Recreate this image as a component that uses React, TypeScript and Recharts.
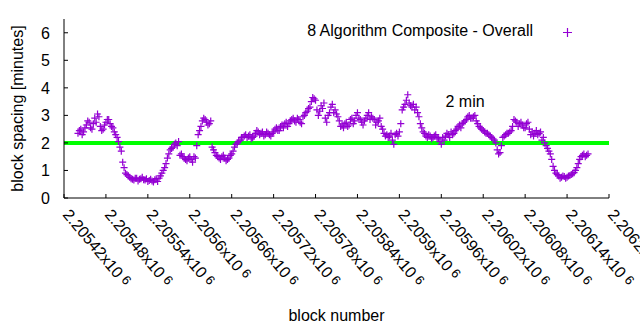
import React from 'react';
import { ScatterChart, Scatter, XAxis, YAxis, ReferenceLine, ReferenceDot, Legend } from 'recharts';

const FONT = '"Liberation Sans", Arial, sans-serif';
const PURPLE = '#9400d3';

// samples every 4 blocks from block 2205440, plus a second run 2 blocks later
const firstBlock = 2205440;
const blockStep = 4;

// block spacing in minutes
const spacingMinutes = [
  2.35, 2.5, 2.4, 2.65, 2.75, 2.5, 2.9, 3.05, 2.6, 2.5,
  2.75, 2.85, 2.6, 2.4, 2.2, 1.85, 1.3, 0.9, 0.8, 0.7,
  0.65, 0.72, 0.68, 0.75, 0.65, 0.6, 0.68, 0.58, 0.7, 0.72,
  0.9, 1.1, 1.45, 1.75, 1.85, 2.0, 2.05, 1.6, 1.45, 1.35,
  1.5, 1.3, 1.45, 2.3, 2.6, 2.9, 2.75, 2.7, 1.85, 1.65,
  1.5, 1.4, 1.55, 1.35, 1.45, 1.6, 1.85, 2.0, 2.1, 2.2,
  2.3, 2.25, 2.15, 2.25, 2.45, 2.3, 2.4, 2.3, 2.35, 2.25,
  2.4, 2.55, 2.45, 2.65, 2.7, 2.6, 2.8, 2.9, 2.75, 2.85,
  2.7, 3.0, 3.15, 3.3, 3.65, 3.55, 3.0, 3.35, 3.45, 2.75,
  3.1, 3.4, 3.2, 2.95, 2.6, 2.55, 2.75, 2.65, 2.9, 2.8,
  3.1, 2.85, 2.65, 2.9, 3.1, 2.95, 2.85, 2.75, 2.9, 2.5,
  2.25, 2.2, 2.35, 1.95, 2.35, 2.4, 3.2, 3.4, 3.75, 3.35,
  3.4, 3.3, 2.95, 2.55, 2.35, 2.2, 2.25, 2.2, 2.3, 2.15,
  1.95, 2.1, 2.35, 2.2, 2.3, 2.45, 2.6, 2.55, 2.75, 2.85,
  3.0, 2.9, 3.0, 2.7, 2.55, 2.45, 2.35, 2.3, 2.2, 2.1,
  1.75, 1.65, 2.2, 2.3, 2.35, 2.45, 2.85, 2.75, 2.7, 2.65,
  2.55, 2.75, 2.3, 2.25, 2.45, 2.35, 2.1, 2.0, 1.8, 1.6,
  1.15, 0.9, 0.8, 0.75, 0.78, 0.75, 0.82, 0.88, 1.0, 1.25,
  1.5, 1.6, 1.55,
];

// the in-between blocks (2 blocks after each of the above)
const spacingMinutesOffset = [
  2.45, 2.3, 2.55, 2.8, 2.55, 2.7, 2.75, 2.95, 2.45, 2.65,
  2.85, 2.7, 2.55, 2.3, 2.05, 1.7, 1.1, 0.85, 0.75, 0.68,
  0.72, 0.62, 0.7, 0.66, 0.7, 0.64, 0.62, 0.66, 0.6, 0.8,
  1.0, 1.25, 1.6, 1.8, 1.95, 1.9, 1.55, 1.5, 1.4, 1.45,
  1.4, 1.5, 1.9, 2.45, 2.8, 2.85, 2.65, 2.8, 1.75, 1.55,
  1.45, 1.5, 1.45, 1.4, 1.55, 1.7, 1.95, 2.05, 2.2, 2.25,
  2.2, 2.3, 2.2, 2.35, 2.4, 2.35, 2.25, 2.4, 2.3, 2.35,
  2.5, 2.45, 2.6, 2.55, 2.75, 2.7, 2.85, 2.8, 2.9, 2.75,
  2.95, 3.1, 3.25, 3.5, 3.6, 3.2, 3.15, 3.25, 2.9, 3.0,
  3.3, 3.1, 3.05, 2.8, 2.65, 2.7, 2.6, 2.85, 2.7, 3.0,
  2.9, 2.75, 2.8, 3.0, 2.85, 2.9, 2.65, 2.8, 2.6, 2.35,
  2.3, 2.25, 2.1, 2.3, 2.25, 2.7, 3.3, 3.55, 3.45, 3.3,
  3.2, 3.1, 2.7, 2.4, 2.25, 2.3, 2.15, 2.25, 2.2, 2.05,
  2.2, 2.25, 2.3, 2.4, 2.35, 2.5, 2.65, 2.7, 2.8, 2.95,
  2.9, 2.95, 2.8, 2.6, 2.5, 2.4, 2.35, 2.25, 2.15, 2.0,
  1.6, 1.9, 2.25, 2.35, 2.4, 2.6, 2.8, 2.6, 2.75, 2.55,
  2.7, 2.5, 2.4, 2.35, 2.3, 2.4, 2.2, 1.9, 1.7, 1.4,
  1.0, 0.85, 0.72, 0.8, 0.72, 0.8, 0.85, 0.92, 1.1, 1.4,
  1.55, 1.5, 1.6,
];

const xTicks = [
  2205420, 2205480, 2205540, 2205600, 2205660, 2205720, 2205780,
  2205840, 2205900, 2205960, 2206020, 2206080, 2206140, 2206200,
];
const xTickLabels = [
  '2.20542', '2.20548', '2.20554', '2.2056', '2.20566', '2.20572', '2.20578',
  '2.20584', '2.2059', '2.20596', '2.20602', '2.20608', '2.20614', '2.2062',
];
const yTicks = [0, 1, 2, 3, 4, 5, 6];

const targetMinutes = 2;
const seriesName = '8 Algorithm Composite - Overall';

const data = [
  ...spacingMinutes.map((v, i) => ({ block: firstBlock + i * blockStep, spacing: v })),
  ...spacingMinutesOffset.map((v, i) => ({ block: firstBlock + 2 + i * blockStep, spacing: v })),
].sort((a, b) => a.block - b.block);

const Cross = ({ cx, cy }: any) => (
  <path d={`M${cx - 3.5},${cy}H${cx + 3.5}M${cx},${cy - 3.5}V${cy + 3.5}`} stroke={PURPLE} strokeWidth={1.2} fill="none" />
);

const BottomTick = ({ x, y, payload }: any) => {
  const idx = xTicks.indexOf(payload.value);
  return (
    <g>
      <line x1={x} y1={y} x2={x} y2={y - 4} stroke="#000" />
      <text transform={`translate(${x - 2},${y + 17}) rotate(50)`} fontSize={16} fontFamily={FONT} fill="#000">
        {xTickLabels[idx]}x10
        <tspan dx={4} dy={-3} fontSize={13}>6</tspan>
      </text>
    </g>
  );
};

const TopTick = ({ x, y }: any) => <line x1={x} y1={y} x2={x} y2={y + 4} stroke="#000" />;

const LeftTick = ({ x, y, payload }: any) => (
  <g>
    <line x1={x} y1={y} x2={x + 4} y2={y} stroke="#000" />
    <text x={x - 14} y={y} dy="0.36em" textAnchor="end" fontSize={16} fontFamily={FONT} fill="#000">
      {payload.value}
    </text>
  </g>
);

const RightTick = ({ x, y }: any) => <line x1={x - 4} y1={y} x2={x} y2={y} stroke="#000" />;

const YLabel = ({ viewBox }: any) => (
  <text
    transform={`translate(23,${viewBox.y + viewBox.height / 2}) rotate(-90)`}
    textAnchor="middle"
    fontSize={16}
    fontFamily={FONT}
    fill="#000"
  >
    block spacing [minutes]
  </text>
);

const LegendBox = () => (
  <div style={{ position: 'relative', width: 0, height: 0 }}>
    <span
      style={{
        position: 'absolute',
        left: 0,
        width: 533,
        top: 22,
        textAlign: 'right',
        fontSize: 16,
        lineHeight: '18px',
        fontFamily: FONT,
        color: '#000',
        whiteSpace: 'nowrap',
      }}
    >
      {seriesName}
    </span>
    <svg style={{ position: 'absolute', left: 563, top: 28 }} width={9} height={9}>
      <path d="M0,4.5H9M4.5,0V9" stroke={PURPLE} strokeWidth={1.2} />
    </svg>
  </div>
);

export default function App() {
  return (
    <div style={{ position: 'absolute', left: 0, top: 0, width: 640, height: 330, background: '#fff' }}>
      <ScatterChart width={640} height={330} margin={{ top: 19, right: 31, bottom: 0, left: 0 }}>
        <XAxis
          xAxisId="b"
          dataKey="block"
          type="number"
          domain={[2205420, 2206200]}
          ticks={xTicks}
          interval={0}
          tick={<BottomTick />}
          tickLine={false}
          tickSize={0}
          tickMargin={0}
          height={132}
          axisLine={{ stroke: '#000' }}
          allowDataOverflow
          label={{ value: 'block number', position: 'insideBottom', offset: 9, fontSize: 16, fontFamily: FONT, fill: '#000' }}
        />
        <XAxis
          xAxisId="t"
          orientation="top"
          type="number"
          domain={[2205420, 2206200]}
          ticks={xTicks}
          interval={0}
          tick={<TopTick />}
          tickLine={false}
          tickSize={0}
          tickMargin={0}
          height={0}
          axisLine={{ stroke: '#000' }}
          allowDataOverflow
        />
        <YAxis
          yAxisId="l"
          dataKey="spacing"
          type="number"
          domain={[0, 6.5]}
          ticks={yTicks}
          interval={0}
          tick={<LeftTick />}
          tickLine={false}
          tickSize={0}
          tickMargin={0}
          width={64}
          axisLine={{ stroke: '#000' }}
          allowDataOverflow
          label={{ content: <YLabel /> }}
        />
        <YAxis
          yAxisId="r"
          orientation="right"
          type="number"
          domain={[0, 6.5]}
          ticks={yTicks}
          interval={0}
          tick={<RightTick />}
          tickLine={false}
          tickSize={0}
          tickMargin={0}
          width={0}
          axisLine={{ stroke: '#000' }}
          allowDataOverflow
        />
        <Legend content={<LegendBox />} wrapperStyle={{ position: 'absolute', top: 0, left: 0, width: 0, height: 0 }} />
        <Scatter
          name={seriesName}
          data={data}
          xAxisId="b"
          yAxisId="l"
          dataKey="spacing"
          shape={<Cross />}
          isAnimationActive={false}
        />
        <ReferenceLine xAxisId="b" yAxisId="l" y={targetMinutes} stroke="#00ff00" strokeWidth={4} />
        <ReferenceDot
          xAxisId="b"
          yAxisId="l"
          x={2205994}
          y={3.5}
          r={0}
          fill="none"
          stroke="none"
          label={{ value: '2 min', position: 'center', fontSize: 16, fontFamily: FONT, fill: '#000' }}
        />
      </ScatterChart>
    </div>
  );
}
